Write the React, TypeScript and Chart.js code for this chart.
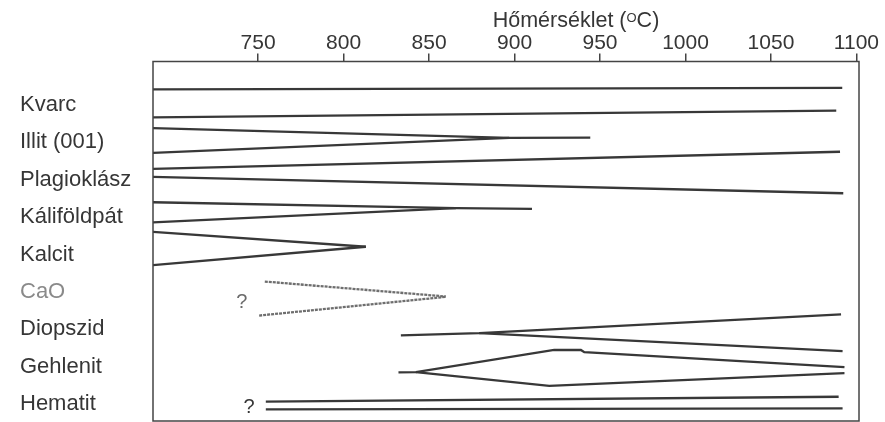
import React, { useEffect, useRef } from 'react';
import { Chart, registerables } from 'chart.js';

Chart.register(...registerables);

// Categories (rows, top to bottom)
const MINERALS = ['Kvarc', 'Illit (001)', 'Plagioklász', 'Káliföldpát', 'Kalcit', 'CaO', 'Diopszid', 'Gehlenit', 'Hematit'];

// Temperature tick labels (°C)
const X_TICKS = [750, 800, 850, 900, 950, 1000, 1050, 1100];
const X_MIN = 688.5;
const X_MAX = 1101.5;

// Band outlines: [temperature °C, row position]
const KVARC_UPPER: number[][] = [[688.5, -0.42], [1091.7, -0.46]];
const KVARC_LOWER: number[][] = [[688.5, 0.33], [1088.2, 0.15]];

const ILLIT_UPPER: number[][] = [[688.5, 0.62], [896.9, 0.88], [944.3, 0.87]];
const ILLIT_LOWER: number[][] = [[688.5, 1.28], [896.9, 0.88]];

const PLAGIO_UPPER: number[][] = [[688.5, 1.71], [1090.4, 1.25]];
const PLAGIO_LOWER: number[][] = [[688.5, 1.92], [1092.3, 2.36]];

const KALIFOLDPAT_UPPER: number[][] = [[688.5, 2.6], [865.7, 2.76], [910.2, 2.78]];
const KALIFOLDPAT_LOWER: number[][] = [[688.5, 3.14], [865.7, 2.76]];

const KALCIT_UPPER: number[][] = [[688.5, 3.39], [813.0, 3.79]];
const KALCIT_LOWER: number[][] = [[688.5, 4.28], [813.0, 3.79]];

const CAO_UPPER: number[][] = [[753.9, 4.72], [859.8, 5.12]];
const CAO_LOWER: number[][] = [[750.6, 5.63], [859.8, 5.13]];

const DIOPSZID_UPPER: number[][] = [[833.5, 6.16], [879.3, 6.10], [1091.0, 5.60]];
const DIOPSZID_LOWER: number[][] = [[879.3, 6.10], [1091.9, 6.58]];

const GEHLENIT_UPPER: number[][] = [[832.1, 7.15], [842.3, 7.14], [923.2, 6.55], [938.8, 6.55], [940.8, 6.61], [1093.0, 7.01]];
const GEHLENIT_LOWER: number[][] = [[842.3, 7.14], [920.3, 7.51], [1093.0, 7.17]];

const HEMATIT_UPPER: number[][] = [[754.5, 7.93], [1089.6, 7.80]];
const HEMATIT_LOWER: number[][] = [[754.5, 8.14], [1091.9, 8.11]];

// Uncertain onsets ("?")
const QUESTION_T = [740.4, 744.7];
const QUESTION_Y = [5.28, 8.09];

const FONT = "'Liberation Sans', Arial, sans-serif";
const INK = '#383838';
const TEXT = '#363636';
const FAINT = '#8a8a8a';

const toPts = (arr: number[][]) => arr.map(([x, y]) => ({ x, y }));

const makeLine = (arr: number[][], color: string, dash: number[] = []) => ({
  data: toPts(arr),
  showLine: true,
  borderColor: color,
  backgroundColor: color,
  borderWidth: 2.3,
  borderDash: dash,
  pointRadius: 0,
  tension: 0,
  fill: false,
});

const framePlugin = {
  id: 'frame',
  afterDatasetsDraw(chart: any) {
    const { ctx, chartArea: a } = chart;
    ctx.save();
    ctx.strokeStyle = '#444';
    ctx.lineWidth = 1.5;
    ctx.strokeRect(a.left, a.top, a.right - a.left, a.bottom - a.top);
    ctx.restore();
  },
};

const textPlugin = {
  id: 'texts',
  afterDraw(chart: any) {
    const { ctx } = chart;
    const xs = chart.scales.x;
    const ys = chart.scales.y;
    ctx.save();
    // title with superscript O
    const p1 = 'Hőmérséklet (';
    const sup = 'O';
    const p2 = 'C)';
    ctx.font = `21.5px ${FONT}`;
    const w1 = ctx.measureText(p1).width;
    const w2 = ctx.measureText(p2).width;
    ctx.font = `13px ${FONT}`;
    const ws = ctx.measureText(sup).width;
    const total = w1 + ws + w2;
    const x0 = 576 - total / 2;
    ctx.fillStyle = TEXT;
    ctx.textAlign = 'left';
    ctx.textBaseline = 'alphabetic';
    ctx.font = `21.5px ${FONT}`;
    ctx.fillText(p1, x0, 27);
    ctx.font = `13px ${FONT}`;
    ctx.fillText(sup, x0 + w1, 21.5);
    ctx.font = `21.5px ${FONT}`;
    ctx.fillText(p2, x0 + w1 + ws, 27);

    // question marks
    ctx.font = `20px ${FONT}`;
    ctx.textAlign = 'center';
    ctx.textBaseline = 'middle';
    QUESTION_T.forEach((t, i) => {
      ctx.fillStyle = i === 0 ? '#6a6a6a' : TEXT;
      ctx.fillText('?', xs.getPixelForValue(t), ys.getPixelForValue(QUESTION_Y[i]));
    });
    ctx.restore();
  },
};

export default function App() {
  const ref = useRef<HTMLCanvasElement>(null);

  useEffect(() => {
    if (!ref.current) return;
    const datasets: any[] = [
      makeLine(KVARC_UPPER, INK),
      makeLine(KVARC_LOWER, INK),
      makeLine(ILLIT_UPPER, INK),
      makeLine(ILLIT_LOWER, INK),
      makeLine(PLAGIO_UPPER, INK),
      makeLine(PLAGIO_LOWER, INK),
      makeLine(KALIFOLDPAT_UPPER, INK),
      makeLine(KALIFOLDPAT_LOWER, INK),
      makeLine(KALCIT_UPPER, INK),
      makeLine(KALCIT_LOWER, INK),
      makeLine(CAO_UPPER, '#6e6e6e', [3, 1]),
      makeLine(CAO_LOWER, '#6e6e6e', [3, 1]),
      makeLine(DIOPSZID_UPPER, INK),
      makeLine(DIOPSZID_LOWER, INK),
      makeLine(GEHLENIT_UPPER, INK),
      makeLine(GEHLENIT_LOWER, INK),
      makeLine(HEMATIT_UPPER, INK),
      makeLine(HEMATIT_LOWER, INK),
    ];

    const chart = new Chart(ref.current, {
      type: 'scatter',
      data: { datasets },
      options: {
        responsive: false,
        animation: false,
        events: [],
        layout: { padding: { left: 20, top: 0, right: 26, bottom: 1 } },
        plugins: {
          legend: { display: false },
          tooltip: { enabled: false },
          title: { display: false },
        },
        scales: {
          x: {
            type: 'linear',
            position: 'top',
            min: X_MIN,
            max: X_MAX,
            afterBuildTicks: (s: any) => {
              s.ticks = X_TICKS.map((v) => ({ value: v }));
            },
            afterFit: (s: any) => {
              s.height = 61.5;
              s.paddingLeft = 0;
              s.paddingRight = 0;
            },
            ticks: {
              font: { family: FONT, size: 21, lineHeight: 1 },
              color: TEXT,
              padding: 0,
              maxRotation: 0,
              autoSkip: false,
              callback: (v: any) => String(v),
            },
            grid: { drawOnChartArea: false, drawTicks: true, tickLength: 8, color: '#444', lineWidth: 1.5 },
            border: { display: false },
          },
          y: {
            type: 'linear',
            reverse: true,
            min: -1.163,
            max: 8.449,
            afterBuildTicks: (s: any) => {
              s.ticks = MINERALS.map((_, i) => ({ value: i }));
            },
            afterFit: (s: any) => {
              s.width = 133;
              s.paddingTop = 0;
              s.paddingBottom = 0;
            },
            ticks: {
              crossAlign: 'far',
              autoSkip: false,
              font: { family: FONT, size: 22 },
              color: (c: any) => (c.index === 5 ? FAINT : TEXT),
              callback: (v: any) => MINERALS[Math.round(Number(v))] ?? '',
            },
            grid: { display: false },
            border: { display: false },
          },
        },
      } as any,
      plugins: [framePlugin, textPlugin],
    });
    return () => chart.destroy();
  }, []);

  return (
    <div style={{ position: 'fixed', left: 0, top: 0, width: 885, height: 422, background: '#fff' }}>
      <canvas ref={ref} width={885} height={422} style={{ display: 'block' }} />
    </div>
  );
}
